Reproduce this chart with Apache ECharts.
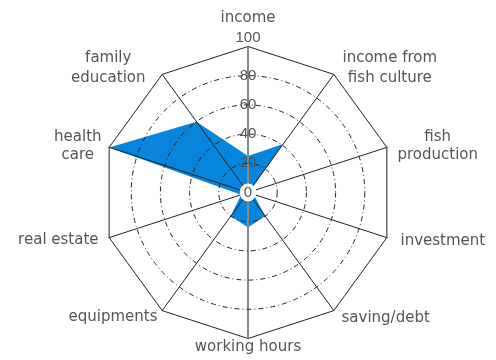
<!DOCTYPE html>
<html>
<head>
<meta charset="utf-8">
<script src="https://cdn.jsdelivr.net/npm/echarts@6/dist/echarts.min.js"></script>
<style>
  html, body { margin: 0; padding: 0; background: #fff; }
  #chart { width: 496px; height: 360px; }
</style>
</head>
<body>
<div id="chart"></div>
<script>
// indicators in echarts order (counter-clockwise from the top)
const indicatorNames = [
  'income',
  'family\neducation',
  'health\ncare',
  'real estate',
  'equipments',
  'working hours',
  'saving/debt',
  'investment',
  'fish\nproduction',
  'income from\nfish culture'
];
const scoreValues = [25, 60, 100, 5, 20, 24, 20, 4, 1, 41];
const ringTicks = [0, 20, 40, 60, 80, 100];

const NAME_FONT = 'DejaVu Sans, sans-serif';
const TICK_FONT = 'Liberation Sans, Arial, sans-serif';
const TEXT_COLOR = '#555';
const CENTER = [248, 192.5];
const RADIUS = 146;

// nudges for the axis names, [dx, dy] in px
const NAME_SHIFT = {
  'family\neducation': [-12, 0],
  'health\ncare': [0, 2],
  'real estate': [-3, 0],
  'saving/debt': [3, 1],
  'investment': [6, 1],
  'fish\nproduction': [3, 2],
  'income from\nfish culture': [4, 0]
};

const nameRich = {};
const baseName = { align: 'center', fontSize: 15, fontFamily: NAME_FONT, color: TEXT_COLOR, lineHeight: 20 };

function nameFormatter(name) {
  const idx = indicatorNames.indexOf(name);
  if (name === 'income') {
    // extra short line pushes the label above the "100" tick
    nameRich.gap = { ...baseName, lineHeight: 10 };
    nameRich.n0 = baseName;
    return '{n0|income}\n{gap| }';
  }
  if (name === 'working hours') {
    nameRich.wh = { ...baseName, lineHeight: 2 };
    return '{wh|' + name + '}';
  }
  const [dx, dy] = NAME_SHIFT[name] || [0, 0];
  const lines = name.split('\n');
  return lines.map((line, i) => {
    const key = 'n' + idx + '_' + i;
    const pad = [0, 0, 0, 0];
    if (dx > 0) pad[3] = dx;
    if (dx < 0) pad[1] = -dx;
    if (dy > 0 && i === 0) pad[0] = 2 * dy;
    if (dy < 0 && i === lines.length - 1) pad[2] = -2 * dy;
    nameRich[key] = { ...baseName, padding: pad };
    return '{' + key + '|' + line + '}';
  }).join('\n');
}

// build rich styles up front so they exist when echarts reads them
indicatorNames.forEach(nameFormatter);

function tickFormatter(value) {
  if (value === 0) return '{zero|0}';
  if (value === 100) return '{top|100}';
  return String(value);
}

const chart = echarts.init(document.getElementById('chart'), null, { renderer: 'canvas' });

chart.setOption({
  animation: false,
  backgroundColor: '#fff',
  radar: {
    center: CENTER,
    radius: RADIUS,
    startAngle: 90,
    shape: 'polygon',
    splitNumber: 1,
    z: 5,
    nameGap: 8,
    indicator: indicatorNames.map(name => ({ name, min: 0, max: 100 })),
    axisName: {
      color: TEXT_COLOR,
      fontSize: 15,
      fontFamily: NAME_FONT,
      lineHeight: 20,
      formatter: nameFormatter,
      rich: nameRich
    },
    axisLine: { lineStyle: { color: '#222', width: 1 } },
    splitLine: { lineStyle: { color: '#222', width: 1 } },
    splitArea: { show: false },
    axisTick: { show: false },
    axisLabel: { show: false }
  },
  polar: {
    center: CENTER,
    radius: RADIUS
  },
  angleAxis: {
    type: 'value',
    min: 0,
    max: 360,
    interval: 180,
    startAngle: 90,
    z: 6,
    axisLine: { show: false },
    axisTick: { show: false },
    axisLabel: { show: false },
    splitLine: { show: true, lineStyle: { color: '#888', width: 2 } }
  },
  radiusAxis: {
    type: 'value',
    min: ringTicks[0],
    max: ringTicks[ringTicks.length - 1],
    interval: 20,
    z: 7,
    axisLine: { show: false },
    axisTick: { show: false },
    axisLabel: {
      show: true,
      margin: 0,
      align: 'center',
      verticalAlign: 'middle',
      color: TEXT_COLOR,
      fontSize: 15,
      fontFamily: TICK_FONT,
      formatter: tickFormatter,
      rich: {
        zero: {
          fontSize: 15, fontFamily: TICK_FONT, color: TEXT_COLOR,
          backgroundColor: '#fff', borderRadius: 9, padding: [2, 4, 1, 4]
        },
        top: {
          fontSize: 15, fontFamily: TICK_FONT, color: TEXT_COLOR,
          padding: [0, 0, 17, 0]
        }
      }
    },
    splitLine: {
      show: true,
      lineStyle: {
        color: ['#222', '#222', '#222', '#222', '#222', 'rgba(0,0,0,0)'],
        width: 1,
        type: [5, 3, 1, 3]
      }
    }
  },
  series: [{
    type: 'radar',
    z: 1,
    symbol: 'none',
    lineStyle: { width: 0 },
    areaStyle: { color: '#0784dc', opacity: 1 },
    data: [{ value: scoreValues, name: 'score' }]
  }]
});
</script>
</body>
</html>
